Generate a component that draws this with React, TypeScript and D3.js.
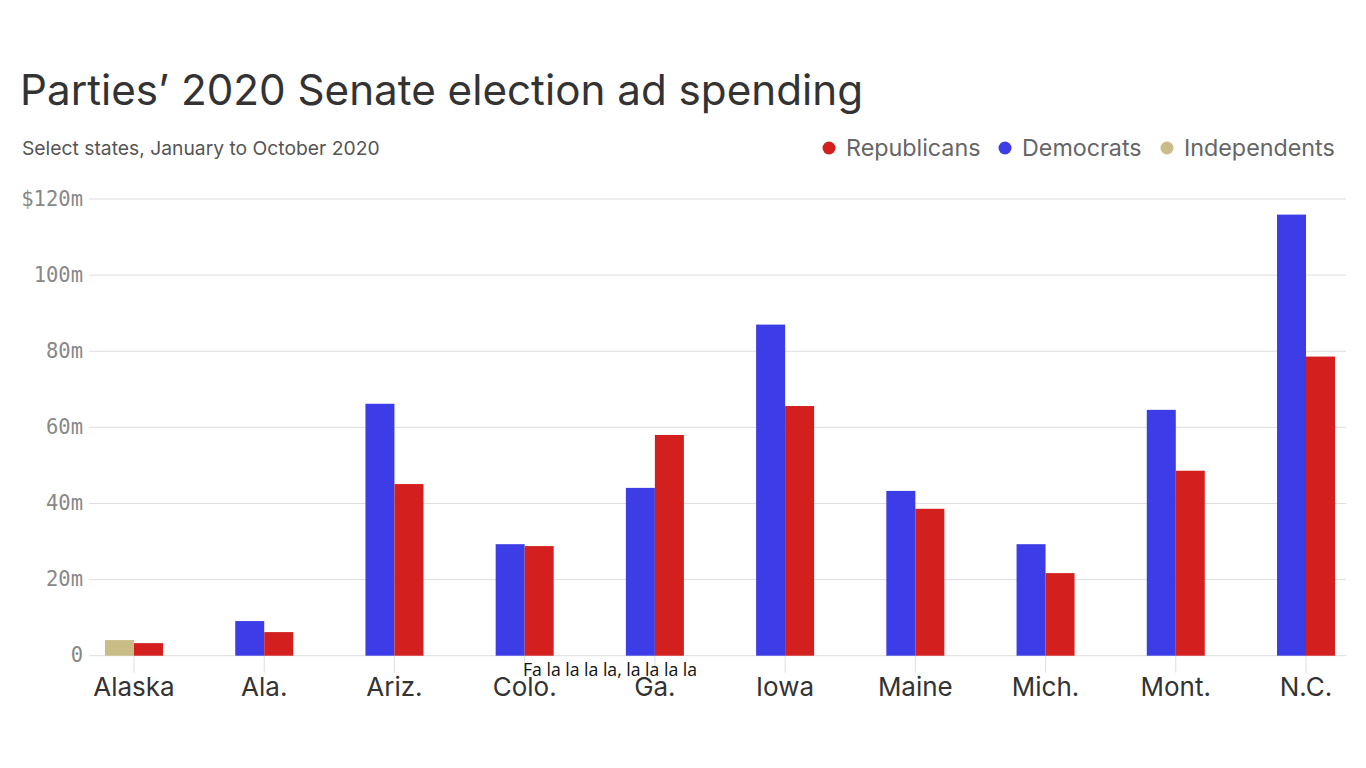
import React from 'react';
import * as d3 from 'd3';

const states = ['Alaska', 'Ala.', 'Ariz.', 'Colo.', 'Ga.', 'Iowa', 'Maine', 'Mich.', 'Mont.', 'N.C.'];
// ad spending, millions of dollars (null = no candidate spending)
const democrats = [null, 9.1, 66.2, 29.3, 44.1, 87.0, 43.3, 29.3, 64.6, 115.9];
const republicans = [3.3, 6.2, 45.1, 28.8, 58.0, 65.6, 38.6, 21.7, 48.6, 78.6];
const independents = [4.1, null, null, null, null, null, null, null, null, null];
const yTicks = [0, 20, 40, 60, 80, 100, 120];

const legend = [
  { name: 'Republicans', color: '#d41f1f' },
  { name: 'Democrats', color: '#3d3de8' },
  { name: 'Independents', color: '#c9bc87' },
];

const W = 1366;
const H = 768;
const grid = { left: 89, right: 1346 };
const barW = 29;
const sans = 'Inter, Roboto, sans-serif';

const App = () => {
  const x = d3.scalePoint<string>().domain(states).range([134, 1306]);
  const y = d3.scaleLinear().domain([0, 120]).range([655.7, 199]);

  const fmt = (d: number) => (d === 120 ? `$${d}m` : d === 0 ? '0' : `${d}m`);

  // left bar is the Democrat (or Independent) one, right bar the Republican
  const bars: { key: string; x: number; v: number; color: string }[] = [];
  states.forEach((s, i) => {
    const cx = x(s) as number;
    const left = democrats[i] ?? independents[i];
    const leftColor = democrats[i] != null ? legend[1].color : legend[2].color;
    if (left != null) bars.push({ key: s + 'l', x: cx - barW, v: left, color: leftColor });
    bars.push({ key: s + 'r', x: cx, v: republicans[i], color: legend[0].color });
  });

  const legendX = [829, 1005, 1167];

  return (
    <svg width={W} height={H} style={{ position: 'absolute', left: 0, top: 0, background: '#fff' }}>
      <text x={20} y={105} fontFamily={sans} fontSize={42.2} fill="#333">
        Parties’ 2020 Senate election ad spending
      </text>
      <text x={22} y={155} fontFamily={sans} fontSize={19.3} fill="#555">
        Select states, January to October 2020
      </text>

      {legend.map((l, i) => (
        <g key={l.name}>
          <circle cx={legendX[i]} cy={148} r={6.5} fill={l.color} />
          <text x={legendX[i] + 17} y={156} fontFamily={sans} fontSize={23.3} fill="#666">
            {l.name}
          </text>
        </g>
      ))}

      {yTicks.map((t) => (
        <g key={t}>
          <line x1={grid.left} x2={grid.right} y1={y(t)} y2={y(t)} stroke="#ddd" strokeWidth={1} />
          <text
            x={83}
            y={y(t) + 6.5}
            textAnchor="end"
            fontFamily="'DejaVu Sans Mono', 'Liberation Mono', monospace"
            fontSize={20.5}
            fill="#888"
          >
            {fmt(t)}
          </text>
        </g>
      ))}

      {states.map((s) => (
        <line key={s} x1={x(s)} x2={x(s)} y1={y(0)} y2={y(0) + 17} stroke="#ddd" strokeWidth={1} />
      ))}

      {bars.map((b) => (
        <rect key={b.key} x={b.x} y={y(b.v)} width={barW} height={y(0) - y(b.v)} fill={b.color} />
      ))}

      {states.map((s) => (
        <text key={s} x={x(s)} y={696} textAnchor="middle" fontFamily={sans} fontSize={26} fill="#333">
          {s}
        </text>
      ))}

      <text
        x={610}
        y={676}
        textAnchor="middle"
        fontFamily="'Liberation Sans Narrow', 'Open Sans', sans-serif"
        fontSize={19}
        fill="#111"
        textLength={174}
        lengthAdjust="spacingAndGlyphs"
      >
        Fa la la la la, la la la la
      </text>
    </svg>
  );
};

export default App;
